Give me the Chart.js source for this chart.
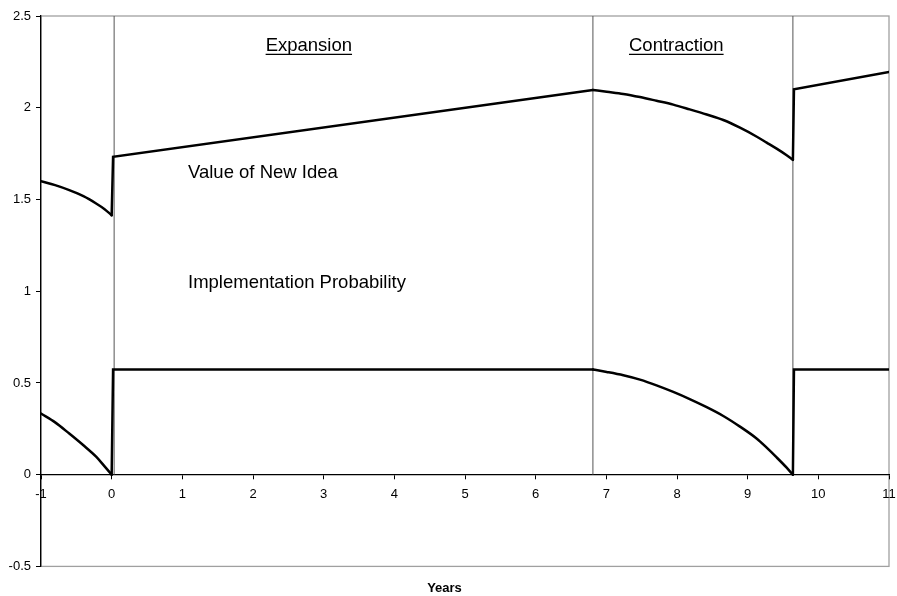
<!DOCTYPE html>
<html>
<head>
<meta charset="utf-8">
<script src="https://cdn.jsdelivr.net/npm/chart.js@4.4.1/dist/chart.umd.min.js"></script>
<style>
  html, body { margin: 0; padding: 0; background: #fff; }
  #wrap { width: 897px; height: 596px; }
</style>
</head>
<body>
<div id="wrap"><canvas id="chart" width="897" height="596"></canvas></div>
<script>
// tail of the previous contraction (year -1 to 0)
const preYears  = [-1, -0.8, -0.6, -0.4, -0.22, -0.1, 0];
const valuePre  = [1.600, 1.578, 1.551, 1.518, 1.478, 1.447, 1.414];
const probPre   = [0.333, 0.285, 0.224, 0.160, 0.098, 0.045, 0];

// expansion: jump just after 0, then straight to the peak
const expYears  = [0, 0.02, 6.81];
const valueExp  = [1.414, 1.733, 2.097];
const probExp   = [0, 0.573, 0.573];

// contraction
const contrYears = [6.81, 7.005, 7.24, 7.476, 7.71, 7.947, 8.18, 8.42, 8.655, 8.891, 9.13, 9.269, 9.41, 9.552, 9.64];
const valueContr = [2.097, 2.087, 2.075, 2.058, 2.038, 2.017, 1.991, 1.963, 1.933, 1.891, 1.842, 1.810, 1.777, 1.741, 1.716];
const probContr  = [0.573, 0.560, 0.542, 0.518, 0.487, 0.451, 0.412, 0.368, 0.320, 0.262, 0.196, 0.147, 0.094, 0.038, 0];

// next expansion
const postYears = [9.64, 9.655, 11];
const valuePost = [1.716, 2.100, 2.195];
const probPost  = [0, 0.573, 0.573];

// phase boundaries (thin vertical lines) and labels
const boundaryYears = [0.035, 6.81, 9.64];
const phaseNames = ['Expansion', 'Contraction'];
const phaseCenters = [2.79, 7.99];
const curveNames = ['Value of New Idea', 'Implementation Probability'];
const curveLabelAt = [[1.08, 1.644], [1.08, 1.044]];

const yTop = 2.5;
const toPoints = (xs, ys) => xs.map((x, i) => ({ x: x, y: ys[i] }));

function curve(label, xs, ys, smooth) {
  return {
    label: label,
    data: toPoints(xs, ys),
    borderColor: '#000',
    borderWidth: 2.5,
    borderCapStyle: 'round',
    borderJoinStyle: 'miter',
    cubicInterpolationMode: smooth ? 'monotone' : 'default'
  };
}

const datasets = [
  curve(curveNames[0], preYears, valuePre, true),
  curve(curveNames[0], expYears, valueExp, false),
  curve(curveNames[0], contrYears, valueContr, true),
  curve(curveNames[0], postYears, valuePost, false),
  curve(curveNames[1], preYears, probPre, true),
  curve(curveNames[1], expYears, probExp, false),
  curve(curveNames[1], contrYears, probContr, true),
  curve(curveNames[1], postYears, probPost, false)
];
boundaryYears.forEach(b => {
  datasets.push({ label: 'boundary', data: [{ x: b, y: 0 }, { x: b, y: yTop }], borderColor: '#555', borderWidth: 1 });
});

const font = 'Liberation Sans, Arial, sans-serif';

// grey frame round the plot area, text labels on top
const framePlugin = {
  id: 'frame',
  beforeDraw(chart) {
    const { ctx, chartArea: a } = chart;
    ctx.save();
    ctx.strokeStyle = '#a0a0a0';
    ctx.lineWidth = 1.3;
    ctx.strokeRect(a.left, a.top, a.right - a.left, a.bottom - a.top);
    ctx.restore();
  },
  afterDatasetsDraw(chart) {
    const { ctx, scales: { x, y } } = chart;
    ctx.save();
    ctx.fillStyle = '#000';
    ctx.strokeStyle = '#000';
    ctx.font = '18.5px ' + font;
    ctx.textBaseline = 'middle';
    // underlined phase titles
    ctx.textAlign = 'center';
    phaseNames.forEach((name, i) => {
      const px = x.getPixelForValue(phaseCenters[i]);
      const py = y.getPixelForValue(2.337);
      ctx.fillText(name, px, py);
      const w = ctx.measureText(name).width;
      ctx.lineWidth = 1.3;
      ctx.beginPath();
      ctx.moveTo(px - w / 2, py + 8.5);
      ctx.lineTo(px + w / 2, py + 8.5);
      ctx.stroke();
    });
    ctx.textAlign = 'left';
    curveNames.forEach((name, i) => {
      ctx.fillText(name, x.getPixelForValue(curveLabelAt[i][0]), y.getPixelForValue(curveLabelAt[i][1]));
    });
    ctx.restore();
  }
};

new Chart(document.getElementById('chart'), {
  type: 'scatter',
  data: { datasets: datasets },
  options: {
    responsive: false,
    animation: false,
    showLine: true,
    elements: { point: { radius: 0, hoverRadius: 0 }, line: { tension: 0 } },
    layout: { padding: { top: 16, right: 8, left: 0, bottom: 0 } },
    plugins: {
      legend: { display: false },
      tooltip: { enabled: false },
      title: {
        display: true,
        position: 'bottom',
        text: 'Years',
        color: '#000',
        font: { family: font, size: 13, weight: 'bold' },
        padding: { top: 14, bottom: 0 }
      }
    },
    scales: {
      x: {
        type: 'linear',
        position: { y: 0 },
        min: -1,
        max: 11,
        ticks: { stepSize: 1, color: '#000', font: { family: font, size: 13 }, padding: 8, maxRotation: 0, autoSkip: false },
        grid: { drawOnChartArea: false, tickLength: 4, color: '#000' },
        border: { color: '#000', width: 1.3 },
        afterFit(scale) { scale.paddingRight = 0; scale.paddingLeft = 0; }
      },
      y: {
        min: -0.5,
        max: 2.5,
        ticks: { stepSize: 0.5, color: '#000', font: { family: font, size: 13 }, padding: 5, callback: v => String(v) },
        grid: { drawOnChartArea: false, tickLength: 5, color: '#000' },
        border: { color: '#000', width: 1.3 },
        afterFit(scale) { scale.width = 41; }
      }
    }
  },
  plugins: [framePlugin]
});
</script>
</body>
</html>
